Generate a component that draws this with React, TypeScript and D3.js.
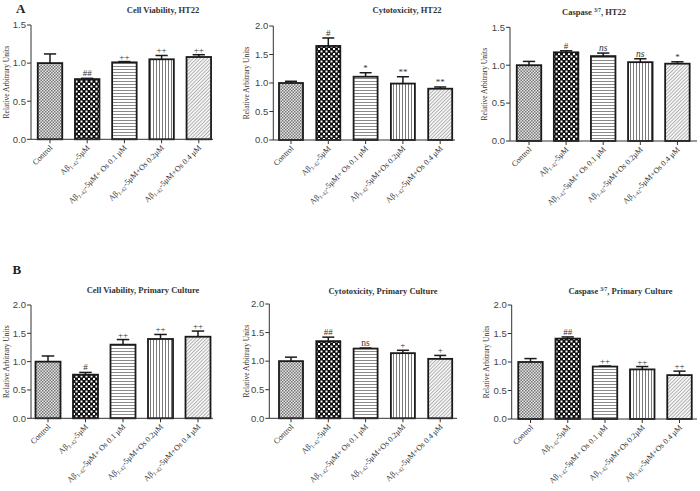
import React from "react";
import * as d3 from "d3";

const categories = [
  "Control",
  "Aβ1-42-5μM",
  "Aβ1-42-5μM+ Os 0.1 μM",
  "Aβ1-42-5μM+Os 0.2μM",
  "Aβ1-42-5μM+Os 0.4 μM",
];

const viabilityHT22 = [1.0, 0.79, 1.01, 1.05, 1.08];
const viabilityHT22Err = [0.12, 0.01, 0.01, 0.05, 0.03];
const viabilityHT22Sig = ["", "##", "++", "++", "++"];

const cytotoxHT22 = [1.0, 1.65, 1.11, 0.99, 0.9];
const cytotoxHT22Err = [0.03, 0.14, 0.07, 0.12, 0.03];
const cytotoxHT22Sig = ["", "#", "*", "**", "**"];

const caspaseHT22 = [1.0, 1.17, 1.12, 1.04, 1.02];
const caspaseHT22Err = [0.05, 0.02, 0.04, 0.045, 0.025];
const caspaseHT22Sig = ["", "#", "ns", "ns", "*"];

const viabilityPC = [1.0, 0.77, 1.3, 1.4, 1.44];
const viabilityPCErr = [0.1, 0.04, 0.09, 0.08, 0.1];
const viabilityPCSig = ["", "#", "++", "++", "++"];

const cytotoxPC = [1.0, 1.35, 1.22, 1.14, 1.04];
const cytotoxPCErr = [0.07, 0.07, 0.01, 0.05, 0.06];
const cytotoxPCSig = ["", "##", "ns", "+", "+"];

const caspasePC = [1.0, 1.41, 0.92, 0.87, 0.77];
const caspasePCErr = [0.06, 0.03, 0.01, 0.05, 0.07];
const caspasePCSig = ["", "##", "++", "++", "++"];

const ticks15 = [0, 0.5, 1.0, 1.5];
const ticks20 = [0, 0.5, 1.0, 1.5, 2.0];

const SERIF = "'Liberation Serif', 'Times New Roman', serif";
const SANS = "'Liberation Sans', Arial, sans-serif";
const patterns = ["pControl", "pChecker", "pHoriz", "pVert", "pDiag"];

type Panel = {
  title: string;
  titleSup?: string;
  titleRest?: string;
  values: number[];
  errs: number[];
  sig: string[];
  ticks: number[];
  nsItalic: boolean;
  axisX: number;
  axisEnd: number;
  y0: number;
  yTopPx: number;
  firstCenter: number;
  step: number;
  barW: number;
  titleX: number;
  titleY: number;
  yLabelX: number;
};

const panels: Panel[] = [
  {
    title: "Cell Viability, HT22", values: viabilityHT22, errs: viabilityHT22Err, sig: viabilityHT22Sig, ticks: ticks15, nsItalic: true,
    axisX: 31, axisEnd: 213, y0: 139.3, yTopPx: 25, firstCenter: 50, step: 37.2, barW: 24.5, titleX: 163, titleY: 13, yLabelX: 8.5,
  },
  {
    title: "Cytotoxicity, HT22", values: cytotoxHT22, errs: cytotoxHT22Err, sig: cytotoxHT22Sig, ticks: ticks20, nsItalic: true,
    axisX: 273.3, axisEnd: 455, y0: 140, yTopPx: 26, firstCenter: 291, step: 37.3, barW: 24, titleX: 407, titleY: 13, yLabelX: 249,
  },
  {
    title: "Caspase ", titleSup: "3/7", titleRest: ", HT22", values: caspaseHT22, errs: caspaseHT22Err, sig: caspaseHT22Sig, ticks: ticks15, nsItalic: true,
    axisX: 510, axisEnd: 697, y0: 141, yTopPx: 27.3, firstCenter: 529, step: 37.1, barW: 24.5, titleX: 594, titleY: 15, yLabelX: 487,
  },
  {
    title: "Cell Viability, Primary Culture", values: viabilityPC, errs: viabilityPCErr, sig: viabilityPCSig, ticks: ticks20, nsItalic: false,
    axisX: 31, axisEnd: 213, y0: 418.3, yTopPx: 305, firstCenter: 48, step: 37.5, barW: 25, titleX: 143, titleY: 293, yLabelX: 8.5,
  },
  {
    title: "Cytotoxicity, Primary Culture", values: cytotoxPC, errs: cytotoxPCErr, sig: cytotoxPCSig, ticks: ticks20, nsItalic: false,
    axisX: 269.3, axisEnd: 457, y0: 418.3, yTopPx: 304, firstCenter: 291, step: 37.3, barW: 24, titleX: 383, titleY: 293.5, yLabelX: 249,
  },
  {
    title: "Caspase ", titleSup: "3/7", titleRest: ", Primary Culture", values: caspasePC, errs: caspasePCErr, sig: caspasePCSig, ticks: ticks20, nsItalic: false,
    axisX: 511.7, axisEnd: 697, y0: 419, yTopPx: 305, firstCenter: 530.5, step: 37.25, barW: 24.5, titleX: 620.5, titleY: 293.5, yLabelX: 488.5,
  },
];

function CatLabel({ text }: { text: string }) {
  if (text.startsWith("Aβ1-42")) {
    const rest = text.slice("Aβ1-42".length);
    return (
      <>
        <tspan>Aβ</tspan>
        <tspan fontSize={5.5} dy={2}>1-42</tspan>
        <tspan dy={-2}>{rest}</tspan>
      </>
    );
  }
  return <tspan>{text}</tspan>;
}

function PanelChart({ p }: { p: Panel }) {
  const maxT = p.ticks[p.ticks.length - 1];
  const y = d3.scaleLinear().domain([0, maxT]).range([p.y0, p.yTopPx]);
  const pI = 1 - p.barW / p.step;
  const r0 = p.firstCenter - p.step / 2;
  const x = d3
    .scaleBand<number>()
    .domain(d3.range(categories.length))
    .range([r0, r0 + p.step * categories.length])
    .paddingInner(pI)
    .paddingOuter(pI / 2);
  const bw = x.bandwidth();
  const midY = (p.y0 + p.yTopPx) / 2;
  return (
    <g>
      <text x={p.titleX} y={p.titleY} textAnchor="middle" fontFamily={SERIF} fontSize={8.5} fontWeight="bold" fill="#333">
        {p.title}
        {p.titleSup && (
          <>
            <tspan fontSize={5.5} dy={-3}>{p.titleSup}</tspan>
            <tspan dy={3}>{p.titleRest}</tspan>
          </>
        )}
      </text>
      <text
        transform={`translate(${p.yLabelX},${midY}) rotate(-90)`}
        textAnchor="middle"
        fontFamily={SERIF}
        fontSize={7.5}
        fill="#333"
      >
        Relative Arbitrary Units
      </text>
      {p.values.map((v, i) => {
        const bx = x(i)!;
        const top = y(v);
        const cx = bx + bw / 2;
        const et = y(v + p.errs[i]);
        const cap = bw * 0.25;
        return (
          <g key={i}>
            <rect x={bx} y={top} width={bw} height={p.y0 - top} fill={`url(#${patterns[i]})`} stroke="#1a1a1a" strokeWidth={1.8} />
            <line x1={cx} x2={cx} y1={top} y2={et} stroke="#1a1a1a" strokeWidth={1.5} />
            <line x1={cx - cap} x2={cx + cap} y1={et} y2={et} stroke="#1a1a1a" strokeWidth={1.5} />
            {p.sig[i] && (
              <text
                x={cx}
                y={et - 2}
                textAnchor="middle"
                fontFamily={SERIF}
                fontSize={p.sig[i] === "ns" ? 9.5 : 9}
                fontStyle={p.sig[i] === "ns" && p.nsItalic ? "italic" : "normal"}
                fill="#333"
              >
                {p.sig[i]}
              </text>
            )}
            <line x1={cx} x2={cx} y1={p.y0} y2={p.y0 + 4} stroke="#333" strokeWidth={1} />
            <text
              transform={`translate(${cx + 3},${p.y0 + 9}) rotate(-45)`}
              textAnchor="end"
              fontFamily={SERIF}
              fontSize={8}
              fill="#333"
            >
              <CatLabel text={categories[i]} />
            </text>
          </g>
        );
      })}
      <line x1={p.axisX} x2={p.axisX} y1={p.y0} y2={p.yTopPx} stroke="#333" strokeWidth={1} />
      <line x1={p.axisX} x2={p.axisEnd} y1={p.y0} y2={p.y0} stroke="#333" strokeWidth={1} />
      {p.ticks.map((t) => (
        <g key={t}>
          <line x1={p.axisX - 4} x2={p.axisX} y1={y(t)} y2={y(t)} stroke="#333" strokeWidth={1} />
          <text x={p.axisX - 5} y={y(t)} dy="0.35em" textAnchor="end" fontFamily={SANS} fontSize={9.5} fill="#444">
            {d3.format(".1f")(t)}
          </text>
        </g>
      ))}
    </g>
  );
}

export default function App() {
  return (
    <svg width={700} height={491} style={{ position: "absolute", left: 0, top: 0, background: "#fff" }}>
      <defs>
        <pattern id="pControl" width={3} height={3} patternUnits="userSpaceOnUse">
          <rect width={3} height={3} fill="#e6e6e6" />
          <rect width={1.5} height={1.5} fill="#777" />
          <rect x={1.5} y={1.5} width={1.5} height={1.5} fill="#777" />
        </pattern>
        <pattern id="pChecker" width={5} height={5} patternUnits="userSpaceOnUse">
          <rect width={5} height={5} fill="#111" />
          <rect x={0.5} y={0.5} width={2} height={2} fill="#fff" />
          <rect x={3} y={3} width={2} height={2} fill="#fff" />
        </pattern>
        <pattern id="pHoriz" width={3} height={3} patternUnits="userSpaceOnUse">
          <rect width={3} height={3} fill="#fff" />
          <rect y={0} width={3} height={1} fill="#8a8a8a" />
        </pattern>
        <pattern id="pVert" width={3} height={3} patternUnits="userSpaceOnUse">
          <rect width={3} height={3} fill="#fff" />
          <rect x={0} width={1} height={3} fill="#7a7a7a" />
        </pattern>
        <pattern id="pDiag" width={2.5} height={2.5} patternUnits="userSpaceOnUse" patternTransform="rotate(45)">
          <rect width={2.5} height={2.5} fill="#f4f4f4" />
          <rect width={0.8} height={2.5} fill="#aaa" />
        </pattern>
      </defs>
      <text x={16} y={13} fontFamily={SERIF} fontSize={13} fontWeight="bold" fill="#222">A</text>
      <text x={12.5} y={274} fontFamily={SERIF} fontSize={13} fontWeight="bold" fill="#222">B</text>
      {panels.map((p, i) => (
        <PanelChart key={i} p={p} />
      ))}
    </svg>
  );
}
